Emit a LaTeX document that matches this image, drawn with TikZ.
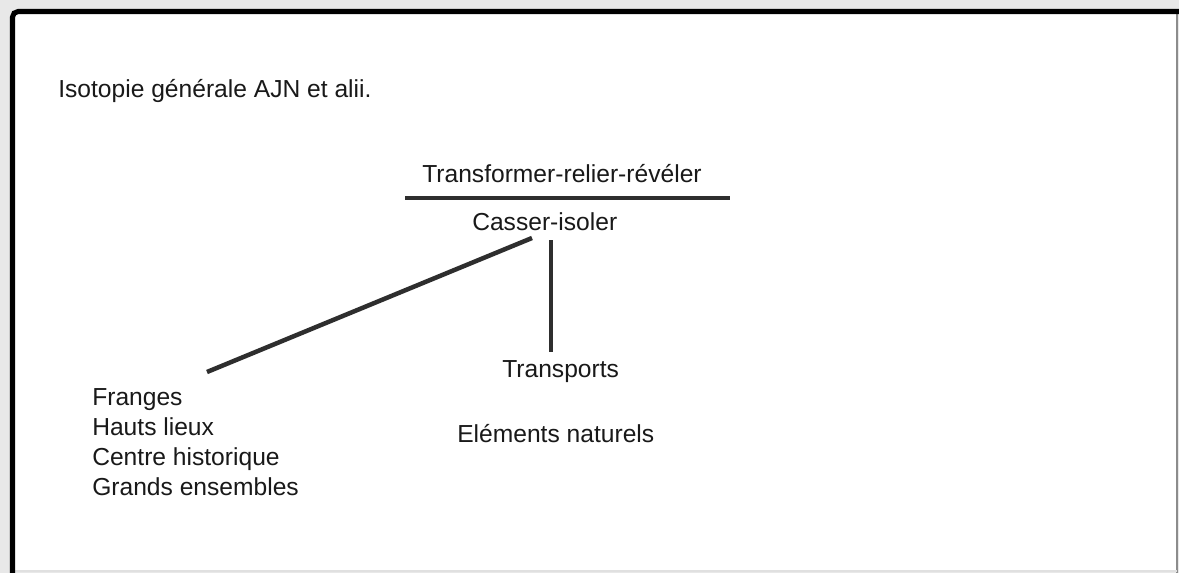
\documentclass[tikz,border=0pt]{standalone}
\usepackage{fontspec}
\setmainfont{Liberation Sans}
\usetikzlibrary{positioning}
\tikzset{
  lbl/.style={anchor=base west, inner sep=0pt, text=black!90,
    font=\fontsize{17.5}{21}\selectfont},
  stroke/.style={line width=3.2pt, color=black!82},
}
\begin{document}
\begin{tikzpicture}[x=0.025cm,y=-0.025cm]
\useasboundingbox (0,0) rectangle (1179,573);
% page frame
\fill[black!9] (0,0) rectangle (1179,573);
\fill[white] (12,11) rectangle (1177,571);
\draw[black!45, line width=1.4pt] (1177,12) -- (1177,573);
\draw[black!12, line width=1pt] (12,571) -- (1177,571);
\draw[black, line width=3.6pt, rounded corners=4] (12.5,573) -- (12.5,11.5) -- (1179,11.5);
% texts
\node[lbl] (title) at (58,97) {Isotopie générale AJN et alii.};
\node[lbl] (upper) at (422,182) {Transformer-relier-révéler};
\node[lbl] (lower) at (472,230) {Casser-isoler};
\node[lbl] (transp) at (502,377) {Transports};
\node[lbl] (elem) at (457,442) {Eléments naturels};
\node[lbl] (franges) at (92,405) {Franges};
\node[lbl] (hauts) at (92,435) {Hauts lieux};
\node[lbl] (centre) at (92,465) {Centre historique};
\node[lbl] (grands) at (92,495) {Grands ensembles};
% bar and links
\draw[stroke, line width=3pt] (405,198) -- (730,198);
\coordinate (diagtop) at (532,238);
\coordinate (diagend) at (207,372);
\coordinate (verttop) at (551,240);
\coordinate (vertend) at (551,352);
\draw[stroke] (diagtop) -- (diagend);
\draw[stroke] (verttop) -- (vertend);
\end{tikzpicture}
\end{document}
